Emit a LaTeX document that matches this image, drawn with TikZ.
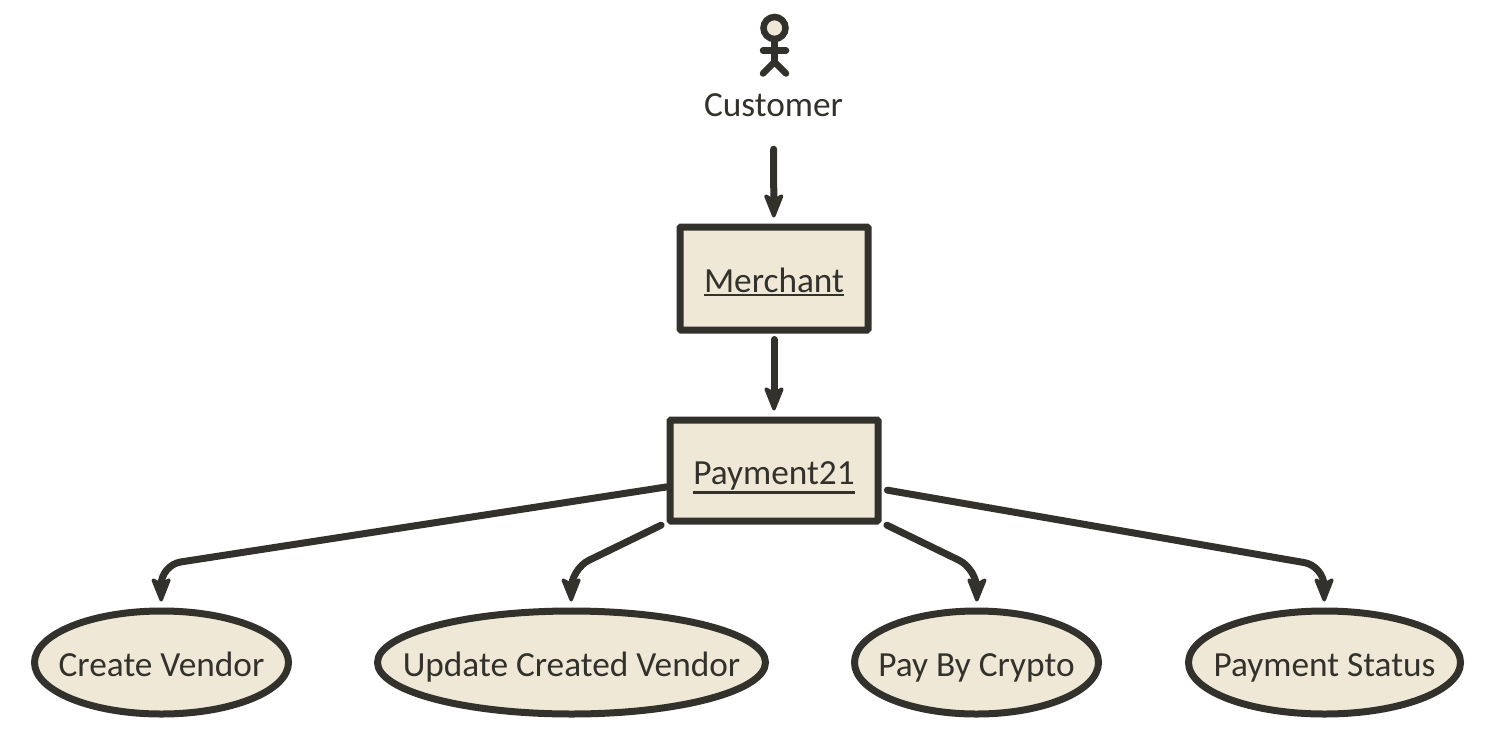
\documentclass[tikz,border=0pt]{standalone}
\usepackage{fontspec}
\setmainfont{Carlito}
\usetikzlibrary{arrows.meta,shapes.geometric}
\definecolor{inkdark}{HTML}{33312C}
\definecolor{paperfill}{HTML}{EFE8D6}
\newcommand{\ultext}[1]{\vtop{\hbox{#1}\kern1pt\hrule height 2.5pt}}
\begin{document}
\begin{tikzpicture}[
    x=1pt, y=-1pt,
    every node/.style={text=inkdark, font=\fontsize{35.3}{42}\selectfont},
    block/.style={rectangle, draw=inkdark, fill=paperfill, line width=7pt, rounded corners=1pt, inner sep=0pt, text height=36pt, text depth=8pt},
    usecase/.style={ellipse, draw=inkdark, fill=paperfill, line width=7pt, inner sep=0pt, minimum height=103pt, text height=36.5pt, text depth=8pt},
    arrow/.style={draw=inkdark, line width=7pt, line cap=round, rounded corners=20pt, -{Stealth[length=28pt, width=22pt, inset=6pt, round, line width=3.5pt]}, shorten >=6pt, shorten <=6pt},
    stick/.style={draw=inkdark, line width=6.5pt, line cap=round, line join=round}
]
    \useasboundingbox (0,0) rectangle (1491,747);

    \node [circle, draw=inkdark, fill=paperfill, line width=6.5pt, minimum size=22pt, inner sep=0pt] (head) at (774.5,28) {};
    \node [inner sep=0pt, minimum height=42pt] (customer) at (773.5,105) {Customer};
    \node [block, minimum width=188pt, minimum height=103pt] (merchant) at (774,278.5) {\ultext{Merchant}};
    \node [block, minimum width=208pt, minimum height=101pt] (payment) at (774,470.5) {\ultext{Payment21}};

    \node [usecase, minimum width=254pt] (create) at (161.5,662.5) {\makebox[0pt]{Create Vendor}};
    \node [usecase, minimum width=388pt] (update) at (571.5,662.5) {\makebox[0pt]{Update Created Vendor}};
    \node [usecase, minimum width=244pt] (crypto) at (976.5,662.5) {\makebox[0pt]{Pay By Crypto}};
    \node [usecase, minimum width=272pt] (status) at (1324.5,662.5) {\makebox[0pt]{Payment Status}};

    \coordinate (createbend) at (161,565);
    \coordinate (updatebend) at (571,569);
    \coordinate (cryptobend) at (977,569);
    \coordinate (statusbend) at (1324,566);

    % actor
    \draw [stick] (head.south) -- (774.5,62) coordinate (hip);
    \draw [stick] (763,50.5) -- (786,50.5);
    \draw [stick] (763,73.5) -- (hip) -- (786,73.5);

    \draw [arrow, shorten <=23pt] (customer) -- (merchant);
    \draw [arrow] (merchant) -- (payment);
    \draw [arrow, shorten <=0pt] (payment) -- (createbend) -- (create);
    \draw [arrow] (payment) -- (updatebend) -- (update);
    \draw [arrow] (payment) -- (cryptobend) -- (crypto);
    \draw [arrow] (payment) -- (statusbend) -- (status);
\end{tikzpicture}
\end{document}
